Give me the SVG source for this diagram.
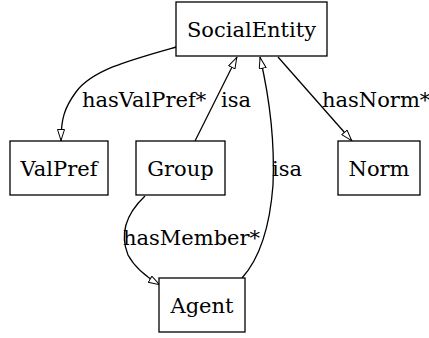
<svg xmlns="http://www.w3.org/2000/svg" width="429" height="338" viewBox="0 0 429 338">
<style>
.box{fill:#fff;stroke:#000;stroke-width:1.3}
.lbl{font-family:"DejaVu Serif",serif;font-size:21px;fill:#000}
.edge{fill:none;stroke:#000;stroke-width:1.3}
</style>
<defs>
<marker id="ah" viewBox="0 0 12 8" refX="12" refY="4" markerWidth="12" markerHeight="8" markerUnits="userSpaceOnUse" orient="auto">
<path d="M0.5,0.5 L11.5,4 L0.5,7.5 Z" fill="#fff" stroke="#000" stroke-width="1"/>
</marker>
</defs>
<rect width="429" height="338" fill="#fff"/>
<g id="connectors">
<path class="edge" marker-end="url(#ah)" d="M176,47 C130,60 92,70 76,92 C64,108 61,120 61,141"/>
<path class="edge" marker-end="url(#ah)" d="M195,141 L237,57"/>
<path class="edge" marker-end="url(#ah)" d="M242,278 C260,258 270,225 273,185 C275,140 270,100 260,57"/>
<path class="edge" marker-end="url(#ah)" d="M278,57 L352,141"/>
<path class="edge" marker-end="url(#ah)" d="M145,196 C125,215 120,235 128,255 C135,268 148,278 160,285"/>
<text class="lbl" x="82" y="107">hasValPref*</text>
<text class="lbl" x="221" y="107">isa</text>
<text class="lbl" x="272" y="176">isa</text>
<text class="lbl" x="322" y="107">hasNorm*</text>
<text class="lbl" x="123" y="245">hasMember*</text>
</g>
<g id="SocialEntity"><rect class="box" x="176" y="2" width="151" height="54"/><text class="lbl" x="251.5" y="37" text-anchor="middle">SocialEntity</text></g>
<g id="ValPref"><rect class="box" x="10" y="141" width="98" height="54"/><text class="lbl" x="59" y="176" text-anchor="middle">ValPref</text></g>
<g id="Group"><rect class="box" x="136" y="141" width="89" height="54"/><text class="lbl" x="180.5" y="176" text-anchor="middle">Group</text></g>
<g id="Norm"><rect class="box" x="338" y="141" width="82" height="54"/><text class="lbl" x="379" y="176" text-anchor="middle">Norm</text></g>
<g id="Agent"><rect class="box" x="159" y="278" width="86" height="54"/><text class="lbl" x="202" y="313" text-anchor="middle">Agent</text></g>
</svg>
